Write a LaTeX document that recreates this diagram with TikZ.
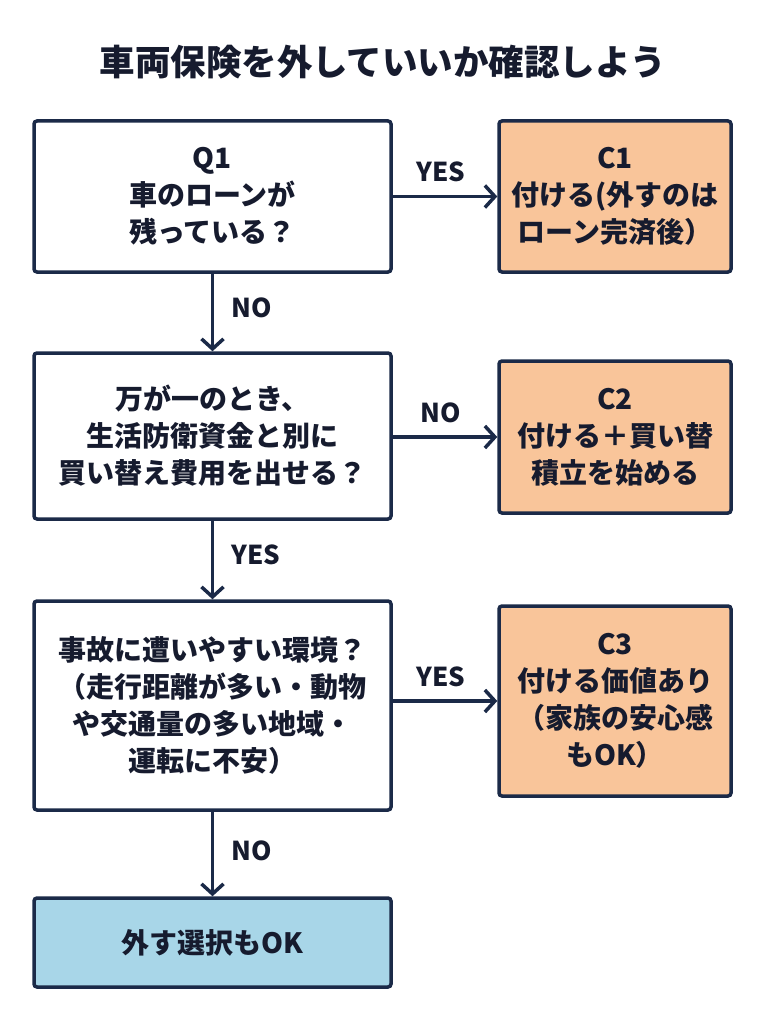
\documentclass[tikz,border=0pt]{standalone}
\usepackage{fontspec}
\setmainfont{Noto Sans CJK JP}
\usetikzlibrary{arrows.meta}
\definecolor{navy}{HTML}{1B2A48}
\definecolor{txt}{HTML}{161B2E}
\definecolor{orangefill}{HTML}{F9C59A}
\definecolor{bluefill}{HTML}{A8D6E8}
\begin{document}
\begin{tikzpicture}[x=1pt,y=-1pt,
  box/.style={draw=navy, line width=3.5pt, rounded corners=3pt, align=center,
    text=txt, font=\bfseries\fontsize{28}{37}\selectfont, inner sep=0pt},
  qbox/.style={box, fill=white, minimum width=357pt},
  cbox/.style={box, fill=orangefill, minimum width=232pt},
  ebox/.style={box, fill=bluefill, minimum width=357pt},
  arr/.style={draw=navy, line width=3.5pt, -{Straight Barb[length=10pt,width=22pt,line width=3.5pt]}},
  lab/.style={text=txt, font=\bfseries\fontsize{26}{30}\selectfont, inner sep=0pt}]
\fill[white] (0,0) rectangle (765,1024);
\useasboundingbox (0,0) rectangle (765,1024);

\node[text=txt, font=\bfseries\fontsize{35.5}{40}\selectfont] (title) at (383,62) {車両保険を外していいか確認しよう};

\node[qbox, minimum height=151pt] (q1) at (212.5,196.5) {Q1\\車のローンが\\残っている？};
\node[cbox, minimum height=151pt] (c1) at (615,196.5) {C1\\付ける(外すのは\\ローン完済後）};
\node[qbox, minimum height=166pt] (q2) at (212.5,436) {万が一のとき、\\生活防衛資金と別に\\買い替え費用を出せる？};
\node[cbox, minimum height=152pt] (c2) at (615,437) {C2\\付ける＋買い替\\積立を始める};
\node[qbox, minimum height=209pt] (q3) at (212.5,705.5) {事故に遭いやすい環境？\\（走行距離が多い・動物\\や交通量の多い地域・\\運転に不安）};
\node[cbox, minimum height=190pt] (c3) at (615,701) {C3\\付ける価値あり\\（家族の安心感\\もOK）};
\node[ebox, minimum height=89pt] (e) at (212.5,942.5) {外す選択もOK};

\draw[arr] (q1.east) -- (c1.west);
\draw[arr] (q1.south) -- (q2.north);
\draw[arr] (q2.east |- c2.west) -- (c2.west);
\draw[arr] (q2.south) -- (q3.north);
\draw[arr] (q3.east |- c3.west) -- (c3.west);
\draw[arr] (q3.south) -- (e.north);

\node[lab] (l1) at (441,172) {YES};
\node[lab] (l2) at (252,308) {NO};
\node[lab] (l3) at (441,413) {NO};
\node[lab] (l4) at (256,555) {YES};
\node[lab] (l5) at (441,677) {YES};
\node[lab] (l6) at (252,851) {NO};
\end{tikzpicture}
\end{document}
